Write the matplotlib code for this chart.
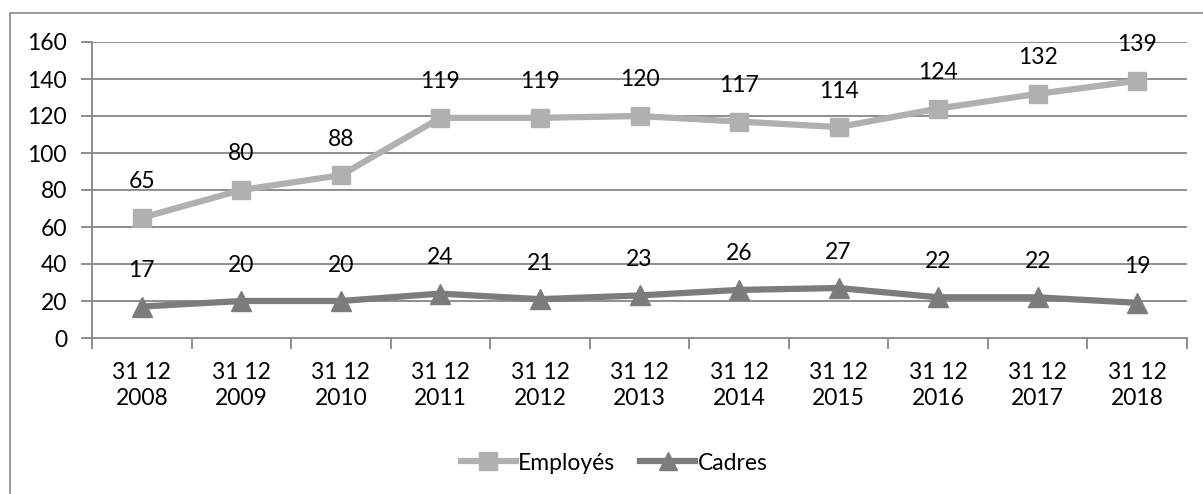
import matplotlib
matplotlib.use("Agg")
import matplotlib.pyplot as plt
from matplotlib.patches import Rectangle
import numpy as np

categories = ["31 12\n2008", "31 12\n2009", "31 12\n2010", "31 12\n2011", "31 12\n2012",
              "31 12\n2013", "31 12\n2014", "31 12\n2015", "31 12\n2016", "31 12\n2017",
              "31 12\n2018"]
employes = [65, 80, 88, 119, 119, 120, 117, 114, 124, 132, 139]
cadres = [17, 20, 20, 24, 21, 23, 26, 27, 22, 22, 19]
yticks = [0, 20, 40, 60, 80, 100, 120, 140, 160]

plt.rcParams['font.family'] = ['Lato', 'DejaVu Sans']
fs = 16.5

fig = plt.figure(figsize=(12.03, 4.94), dpi=100)
fig.patches.append(Rectangle((10/1203, -0.05), 1.2, 1 - 13/494 + 0.05,
                             transform=fig.transFigure, fill=False,
                             edgecolor='#868686', linewidth=1.2))
ax = fig.add_axes([92/1203, 1 - 338/494, (1187-92)/1203, (338-42)/494])

x = np.arange(len(categories))
grid_c = '#868686'
for v in yticks[1:]:
    ax.axhline(v, color=grid_c, linewidth=1.3, zorder=1)

le, = ax.plot(x, employes, color='#b0b0b0', linewidth=4.5, marker='s', markersize=13,
              label='Employés', zorder=3)
lc, = ax.plot(x, cadres, color='#7c7c7c', linewidth=4.5, marker='^', markersize=14,
              label='Cadres', zorder=3)

for xi, v in zip(x, employes):
    ax.annotate(str(v), (xi, v), xytext=(0, 36), textcoords='offset pixels',
                ha='center', va='center', fontsize=fs, color='black', zorder=4)
for xi, v in zip(x, cadres):
    ax.annotate(str(v), (xi, v), xytext=(0, 36), textcoords='offset pixels',
                ha='center', va='center', fontsize=fs, color='black', zorder=4)

ax.set_xlim(-0.5, len(categories) - 0.5)
ax.set_ylim(0, 160)
ax.set_yticks(yticks)
ax.set_yticklabels([str(v) for v in yticks], fontsize=fs)
ax.set_xticks(x)
ax.set_xticklabels(categories, fontsize=fs, linespacing=1.3)
ax.set_xticks(np.arange(-0.5, len(categories), 1.0), minor=True)
ax.tick_params(axis='x', which='major', length=0, pad=17)
ax.tick_params(axis='x', which='minor', length=8, color=grid_c, width=1.3)
ax.tick_params(axis='y', length=8, color=grid_c, width=1.3, pad=10)

for s in ['top', 'right']:
    ax.spines[s].set_visible(False)
for s in ['left', 'bottom']:
    ax.spines[s].set_color(grid_c)
    ax.spines[s].set_linewidth(1.3)

fig.legend(handles=[le, lc], loc='center', bbox_to_anchor=(614/1203, 1 - 463/494),
           ncol=2, frameon=False, fontsize=fs, handlelength=2.4, handletextpad=0.1,
           columnspacing=1.1, markerscale=0.95)

fig.savefig('out.png', dpi=100)
